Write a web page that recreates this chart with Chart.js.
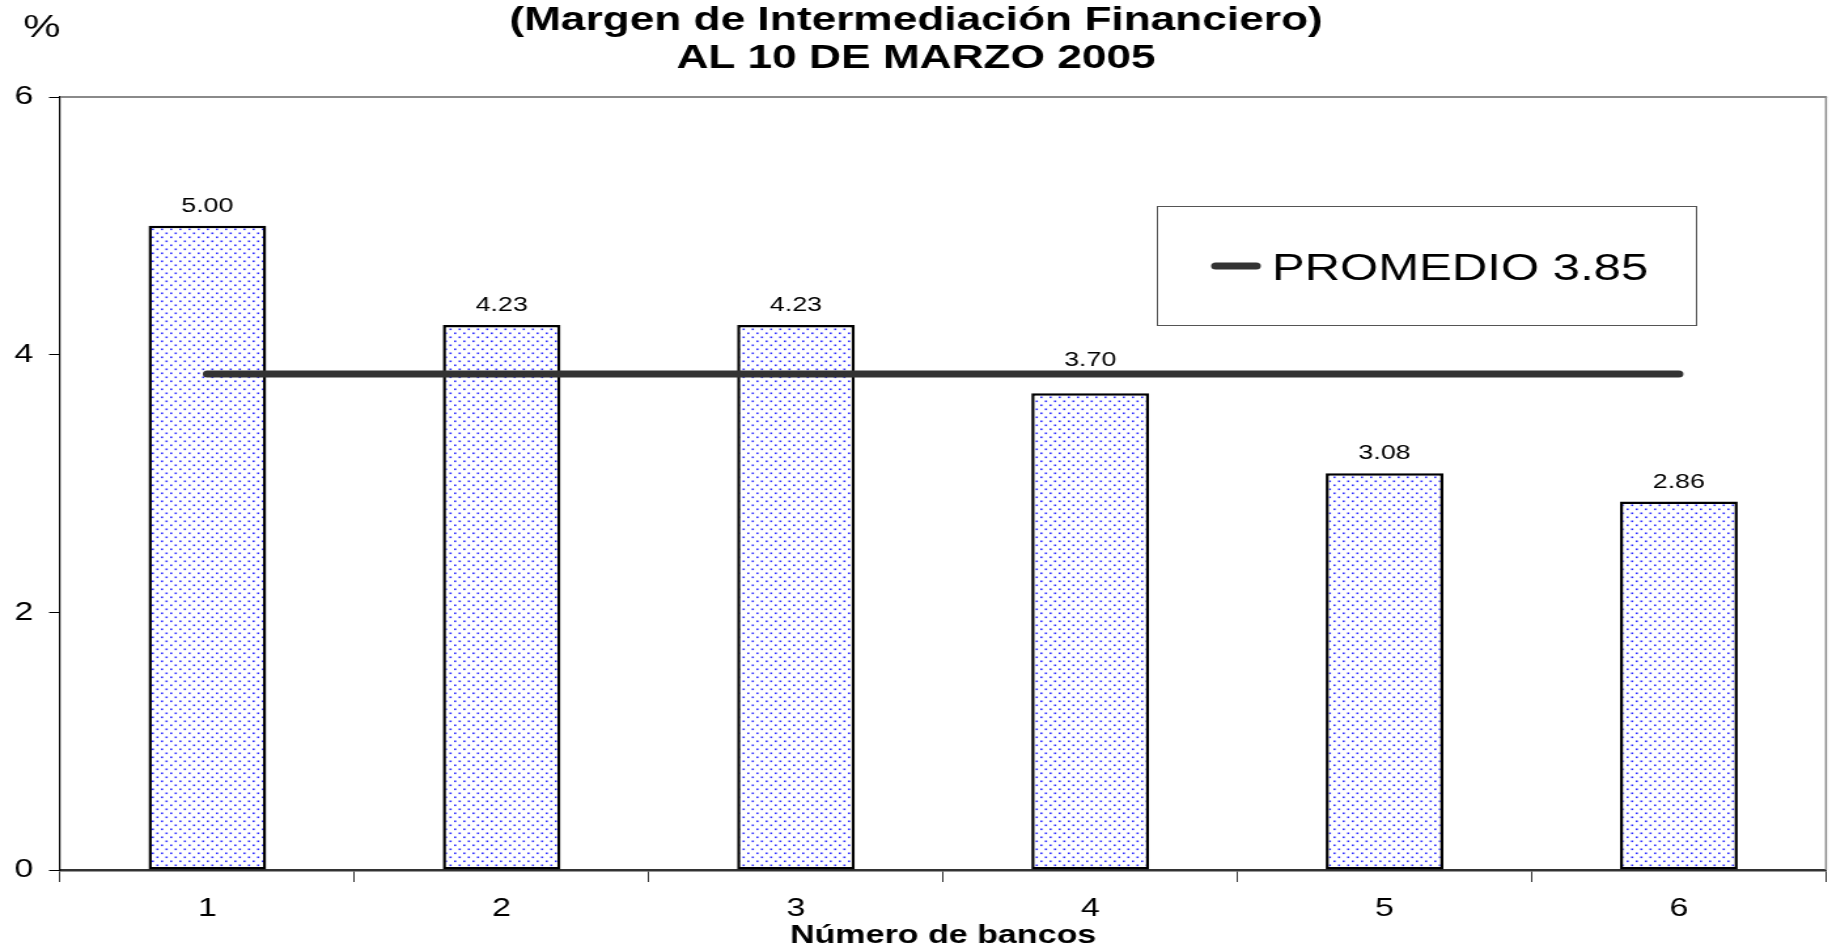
<!DOCTYPE html>
<html>
<head>
<meta charset="utf-8">
<script src="https://cdn.jsdelivr.net/npm/chart.js@4"></script>
<style>
  html, body { margin: 0; padding: 0; background: #fff; overflow: hidden; }
  #chart { display: block; }
</style>
</head>
<body>
<!-- drawn at 1400 wide, shown stretched to 1832 like the original picture -->
<canvas id="chart" width="1400" height="949" style="width:1832px;height:949px"></canvas>
<script>
const categories = ["1", "2", "3", "4", "5", "6"];
const margenValues = [5.0, 4.23, 4.23, 3.7, 3.08, 2.86];
const promedioValues = [3.85, 3.85, 3.85, 3.85, 3.85, 3.85];
const yTickValues = [0, 2, 4, 6];
const titleLines = ["(Margen de Intermediación Financiero)", "AL 10 DE MARZO 2005"];
const promedioLabel = "PROMEDIO 3.85";
const xAxisTitle = "Número de bancos";

const FONT = '"Liberation Sans", Arial, sans-serif';

function dotPattern(ctx) {
  const tile = document.createElement("canvas");
  tile.width = 7;
  tile.height = 8;
  const t = tile.getContext("2d");
  t.fillStyle = "#fff";
  t.fillRect(0, 0, 7, 8);
  t.fillStyle = "#2a2aff";
  t.fillRect(0.5, 0.5, 1.6, 1.6);
  t.fillRect(4, 4.5, 1.6, 1.6);
  return ctx.createPattern(tile, "repeat");
}

// top and right edges of the plot area
const framePlugin = {
  id: "frame",
  beforeDatasetsDraw(chart) {
    const { ctx, chartArea: a } = chart;
    ctx.save();
    ctx.strokeStyle = "#8a8a8a";
    ctx.lineWidth = 2;
    ctx.beginPath();
    ctx.moveTo(a.left, a.top);
    ctx.lineTo(a.right + 0.75, a.top);
    ctx.stroke();
    ctx.lineWidth = 1.5;
    ctx.beginPath();
    ctx.moveTo(a.right, a.top);
    ctx.lineTo(a.right, a.bottom);
    ctx.stroke();
    ctx.restore();
  },
};

const valueLabelsPlugin = {
  id: "valueLabels",
  afterDatasetsDraw(chart) {
    const ctx = chart.ctx;
    const meta = chart.getDatasetMeta(1);
    const lineY = chart.scales.y.getPixelForValue(promedioValues[0]);
    ctx.save();
    ctx.fillStyle = "#000";
    ctx.font = `20.5px ${FONT}`;
    ctx.textAlign = "center";
    ctx.textBaseline = "alphabetic";
    meta.data.forEach((bar, i) => {
      let y = bar.y - 14;
      // keep the label clear of the average line
      if (y > lineY - 8 && y - 15 < lineY + 4) y = lineY - 8;
      ctx.fillText(margenValues[i].toFixed(2), bar.x, y);
    });
    ctx.restore();
  },
};

const textPlugin = {
  id: "texts",
  afterDraw(chart) {
    const ctx = chart.ctx;
    ctx.save();
    ctx.fillStyle = "#000";
    ctx.textBaseline = "alphabetic";
    ctx.textAlign = "center";
    ctx.font = `bold 33.8px ${FONT}`;
    ctx.fillText(titleLines[0], chart.width / 2, 29.5);
    ctx.fillText(titleLines[1], chart.width / 2, 67.5);
    ctx.font = `32px ${FONT}`;
    ctx.fillText("%", 32, 37);

    // legend box
    const line = chart.data.datasets[0];
    ctx.strokeStyle = "#555";
    ctx.lineWidth = 1;
    ctx.strokeRect(884.5, 206.5, 412, 119);
    ctx.strokeStyle = line.borderColor;
    ctx.lineWidth = line.borderWidth;
    ctx.lineCap = "round";
    ctx.beginPath();
    ctx.moveTo(929, 266);
    ctx.lineTo(960, 266);
    ctx.stroke();
    ctx.textAlign = "left";
    ctx.font = `37.5px ${FONT}`;
    ctx.fillText(line.label, 972, 280);
    ctx.restore();
  },
};

const canvas = document.getElementById("chart");
const ctx = canvas.getContext("2d");

new Chart(ctx, {
  data: {
    labels: categories,
    datasets: [
      {
        type: "line",
        label: promedioLabel,
        data: promedioValues,
        borderColor: "#333333",
        borderWidth: 7,
        borderCapStyle: "round",
        pointRadius: 0,
        pointHoverRadius: 0,
        fill: false,
        tension: 0,
        order: 0,
      },
      {
        type: "bar",
        label: "Margen",
        data: margenValues,
        backgroundColor: dotPattern(ctx),
        borderColor: "#000",
        borderWidth: 2.5,
        borderSkipped: false,
        barPercentage: 0.4,
        categoryPercentage: 1,
        order: 1,
      },
    ],
  },
  options: {
    responsive: false,
    animation: false,
    events: [],
    layout: { padding: { top: 97, right: 4.6, left: 0, bottom: 0 } },
    plugins: {
      legend: { display: false },
      tooltip: { enabled: false },
    },
    scales: {
      x: {
        afterFit(scale) {
          scale.height = 79;
        },
        grid: { offset: true, drawOnChartArea: false, tickLength: 12, color: "#333", lineWidth: 1 },
        border: { color: "#333", width: 2.5 },
        ticks: { padding: 11, color: "#000", font: { family: FONT, size: 26 } },
        title: {
          display: true,
          text: xAxisTitle,
          color: "#000",
          font: { family: FONT, size: 26, weight: "bold", lineHeight: 1 },
          padding: { top: 0, bottom: 0 },
        },
      },
      y: {
        min: 0,
        max: 6,
        afterBuildTicks(scale) {
          scale.ticks = yTickValues.map((v) => ({ value: v }));
        },
        afterFit(scale) {
          scale.width = 46;
        },
        grid: { drawOnChartArea: false, tickLength: 8.5, color: "#000", lineWidth: 1 },
        border: { color: "#000", width: 1.2 },
        ticks: { padding: 12, color: "#000", font: { family: FONT, size: 26 } },
      },
    },
  },
  plugins: [framePlugin, valueLabelsPlugin, textPlugin],
});
</script>
</body>
</html>
